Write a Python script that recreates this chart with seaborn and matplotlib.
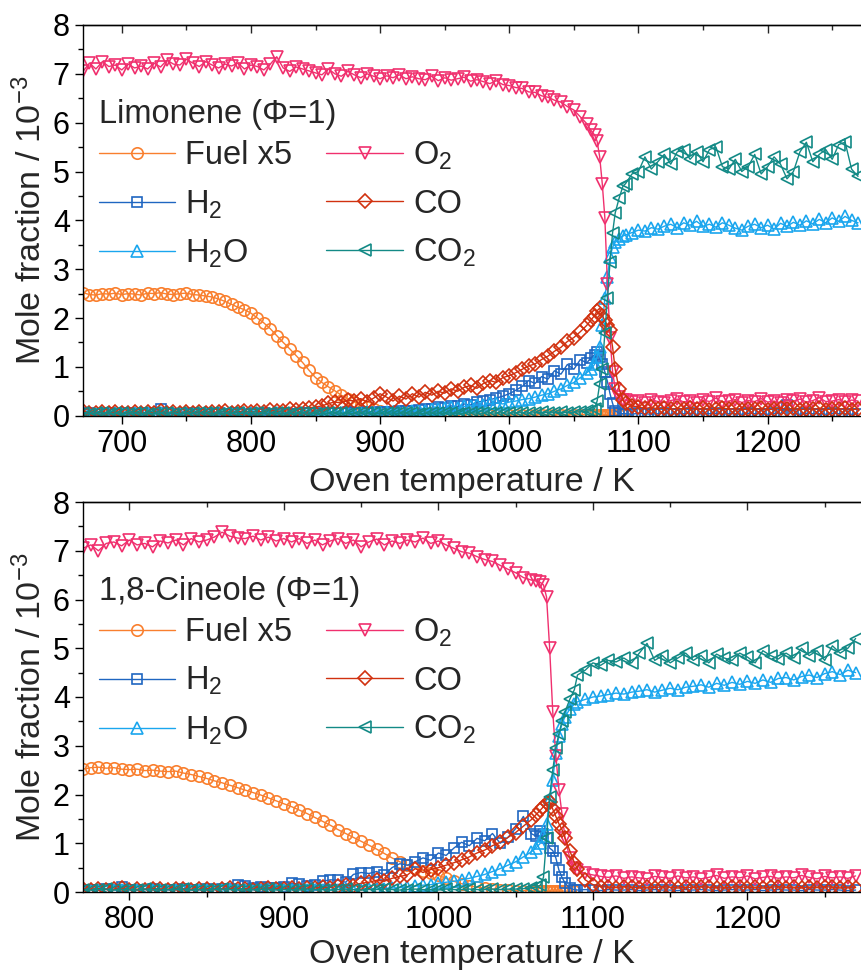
import matplotlib
matplotlib.use("Agg")
import matplotlib.pyplot as plt
import seaborn as sns
from matplotlib.ticker import MultipleLocator

sns.set_style("ticks")
plt.rcParams["font.family"] = ["Liberation Sans", "DejaVu Sans"]
plt.rcParams["mathtext.fontset"] = "custom"
plt.rcParams["mathtext.rm"] = "Liberation Sans"
plt.rcParams["mathtext.it"] = "Liberation Sans:italic"
plt.rcParams["mathtext.bf"] = "Liberation Sans:bold"

# ---------------- data: top panel (Limonene) ----------------
T_top = [670, 675, 680, 685, 690, 695, 700, 705, 710, 715, 720, 725, 730, 735, 740, 745, 750, 755, 760, 765,
         770, 775, 780, 785, 790, 795, 800, 805, 810, 815, 820, 825, 830, 835, 840, 845, 850, 855, 860, 865,
         870, 875, 880, 885, 890, 895, 900, 905, 910, 915, 920, 925, 930, 935, 940, 945, 950, 955, 960, 965,
         970, 975, 980, 985, 990, 995, 1000, 1005, 1010, 1015, 1020, 1025, 1030, 1035, 1040, 1045, 1050, 1055, 1060,
         1063, 1066, 1068, 1070, 1072, 1074, 1076, 1078, 1080, 1082, 1085, 1088,
         1090, 1095, 1100, 1105, 1110, 1115, 1120, 1125, 1130, 1135, 1140, 1145, 1150, 1155, 1160, 1165, 1170,
         1175, 1180, 1185, 1190, 1195, 1200, 1205, 1210, 1215, 1220, 1225, 1230, 1235, 1240, 1245, 1250, 1255,
         1260, 1265, 1270]

fuel_top = [2.52, 2.48, 2.47, 2.50, 2.49, 2.51, 2.48, 2.50, 2.49, 2.47, 2.51, 2.50, 2.52, 2.49, 2.48, 2.50, 2.51, 2.48, 2.47,
            2.45, 2.43, 2.39, 2.34, 2.28, 2.22, 2.17, 2.10, 2.00, 1.90, 1.78, 1.64, 1.50, 1.37, 1.23, 1.09, 0.93, 0.78, 0.68, 0.59,
            0.51, 0.42, 0.35, 0.28, 0.22, 0.17, 0.13, 0.10,
            0.08, 0.07, 0.06, 0.05, 0.05, 0.04, 0.04, 0.04, 0.03, 0.03, 0.03, 0.03, 0.03, 0.03, 0.02, 0.02, 0.02, 0.02, 0.02, 0.02,
            0.02, 0.02, 0.02, 0.02, 0.02, 0.02, 0.02, 0.02, 0.02, 0.02, 0.02, 0.02,
            0.02, 0.02, 0.02, 0.02, 0.02, 0.02, 0.02, 0.02, 0.02, 0.02, 0.02, 0.02]

o2_top = [7.05, 7.22, 7.10, 7.25, 7.15, 7.18, 7.08, 7.20, 7.12, 7.16, 7.10, 7.22, 7.14, 7.28, 7.20, 7.18, 7.30, 7.22, 7.15, 7.25,
          7.18, 7.12, 7.20, 7.16, 7.22, 7.10, 7.18,
          7.15, 7.08, 7.20, 7.35, 7.12, 7.05, 7.14, 7.10, 7.06, 7.02, 6.98, 7.10, 7.00, 6.95, 7.05, 6.98, 6.92, 7.00, 6.95, 6.90,
          6.96, 6.92, 6.98, 6.90, 6.94, 6.90, 6.88, 6.95, 6.86, 6.92, 6.87, 6.90, 6.93, 6.85, 6.88, 6.84, 6.80, 6.86, 6.78, 6.76,
          6.72, 6.70, 6.63, 6.62, 6.55, 6.52, 6.46, 6.42, 6.33, 6.26, 6.12, 5.98,
          5.85, 5.75, 5.62, 5.30, 4.75, 4.05, 2.70, 1.60, 0.90, 0.55, 0.38, 0.32,
          0.32, 0.28, 0.30, 0.26, 0.33, 0.29, 0.27, 0.31, 0.34, 0.28, 0.30, 0.25, 0.32, 0.29, 0.36, 0.28, 0.30, 0.33, 0.27, 0.31,
          0.29, 0.35, 0.28, 0.30, 0.26, 0.32, 0.30, 0.34, 0.28, 0.31, 0.37, 0.29, 0.30, 0.33, 0.28, 0.32, 0.30]

h2_top = [0.04, 0.05, 0.03, 0.04, 0.05, 0.04, 0.03, 0.05, 0.04, 0.04, 0.05, 0.04, 0.14, 0.05, 0.04, 0.03, 0.04, 0.05, 0.04, 0.04,
          0.03, 0.05, 0.04, 0.04, 0.05, 0.04, 0.03, 0.04, 0.05, 0.04, 0.04, 0.05, 0.04, 0.03, 0.05, 0.06, 0.05, 0.04, 0.06, 0.05,
          0.06, 0.07, 0.05, 0.06, 0.08, 0.06, 0.07,
          0.08, 0.07, 0.09, 0.10, 0.09, 0.12, 0.14, 0.13, 0.17, 0.16, 0.20, 0.19, 0.24, 0.22, 0.28, 0.30, 0.33, 0.36, 0.40, 0.45,
          0.52, 0.60, 0.72, 0.66, 0.80, 0.75, 0.92, 0.85, 1.05, 0.95, 1.15, 1.08,
          1.18, 1.25, 1.30, 1.20, 1.05, 0.90, 0.70, 0.45, 0.25, 0.10, 0.05, 0.04,
          0.04, 0.03, 0.05, 0.04, 0.03, 0.04, 0.05, 0.03, 0.04, 0.04, 0.05, 0.03, 0.04, 0.04, 0.05, 0.03, 0.04, 0.04, 0.03, 0.05,
          0.04, 0.04, 0.03, 0.05, 0.04, 0.22, 0.04, 0.03, 0.05, 0.04, 0.04, 0.03, 0.05, 0.04, 0.04, 0.03, 0.04]

co_top = [0.10, 0.06, 0.05, 0.08, 0.06, 0.07, 0.05, 0.06, 0.08, 0.05, 0.07, 0.06, 0.09, 0.05, 0.07, 0.06, 0.08, 0.05, 0.07, 0.06,
          0.08, 0.07, 0.09, 0.06, 0.08, 0.10, 0.07, 0.09, 0.08, 0.12, 0.09, 0.10, 0.13, 0.11, 0.14, 0.16, 0.18,
          0.20, 0.25, 0.28, 0.26, 0.32, 0.30, 0.35, 0.28, 0.36, 0.45, 0.38, 0.30, 0.40, 0.34, 0.45, 0.38, 0.48, 0.42, 0.50, 0.46,
          0.55, 0.50, 0.58, 0.62, 0.56, 0.66, 0.72, 0.68, 0.78, 0.82, 0.88, 0.95, 1.02, 1.06, 1.15, 1.22, 1.32, 1.40, 1.52, 1.60,
          1.72, 1.85,
          1.95, 2.05, 2.15, 2.20, 2.05, 1.95, 1.85, 1.75, 1.40, 0.95, 0.55, 0.32,
          0.25, 0.20, 0.18, 0.15, 0.17, 0.14, 0.16, 0.13, 0.15, 0.14, 0.16, 0.13, 0.15, 0.12, 0.14, 0.16, 0.13, 0.15, 0.12, 0.14,
          0.13, 0.15, 0.12, 0.14, 0.16, 0.13, 0.15, 0.12, 0.14, 0.13, 0.15, 0.12, 0.14, 0.13, 0.15, 0.12, 0.14]

h2o_top = [0.04, 0.05, 0.04, 0.05, 0.04, 0.05, 0.04, 0.04, 0.05, 0.04, 0.05, 0.04, 0.05, 0.04, 0.04, 0.05, 0.04, 0.05, 0.04, 0.05,
           0.04, 0.05, 0.04, 0.05, 0.04, 0.05, 0.05, 0.04, 0.05, 0.04, 0.05, 0.04, 0.05, 0.05, 0.04, 0.06, 0.05, 0.05, 0.06, 0.05,
           0.06, 0.05, 0.06, 0.06, 0.07, 0.06, 0.07,
           0.07, 0.08, 0.07, 0.09, 0.10, 0.11, 0.10, 0.13, 0.14, 0.15, 0.17, 0.16, 0.19, 0.20, 0.22, 0.21, 0.25, 0.26, 0.24, 0.28,
           0.30, 0.33, 0.35, 0.38, 0.42, 0.45, 0.50, 0.55, 0.62, 0.68, 0.78, 0.88,
           0.95, 1.05, 1.20, 1.40, 1.85, 2.40, 2.85, 3.25, 3.45, 3.55, 3.62, 3.68,
           3.70, 3.75, 3.80, 3.78, 3.85, 3.82, 3.88, 3.92, 3.85, 3.95, 3.90, 3.98, 3.88, 3.92, 3.86, 3.95, 3.90, 3.84, 3.80, 3.88,
           3.92, 3.85, 3.90, 3.82, 3.94, 3.88, 3.96, 3.90, 3.99, 3.93, 4.02, 3.95, 4.05, 3.98, 4.08, 4.00, 3.95]

co2_top = [0.05, 0.04, 0.05, 0.06, 0.04, 0.05, 0.05, 0.04, 0.06, 0.05, 0.04, 0.05, 0.05, 0.06, 0.04, 0.05, 0.04, 0.05, 0.06, 0.05,
           0.05, 0.04, 0.05, 0.05, 0.06, 0.04, 0.05, 0.05, 0.04, 0.06, 0.05, 0.05, 0.04, 0.05, 0.06, 0.05, 0.04, 0.05, 0.05, 0.06,
           0.05, 0.04, 0.05, 0.06, 0.05, 0.05, 0.04, 0.06, 0.05, 0.05, 0.06, 0.05, 0.04, 0.05, 0.06, 0.05, 0.05, 0.06, 0.04, 0.05,
           0.06, 0.05, 0.05, 0.06, 0.05, 0.06, 0.05, 0.06, 0.06, 0.05, 0.06, 0.07, 0.06, 0.06, 0.07, 0.06, 0.07, 0.08, 0.09,
           0.10, 0.14, 0.30, 0.65, 0.95, 1.70, 2.40, 3.15, 3.75, 4.15, 4.45, 4.70,
           4.75, 4.95, 5.00, 5.30, 5.05, 5.20, 5.35, 5.15, 5.40, 5.45, 5.25, 5.40, 5.20, 5.45, 5.50, 5.10, 5.05, 5.25, 5.00, 5.10,
           5.35, 4.95, 5.10, 5.30, 5.15, 4.85, 5.00, 5.40, 5.60, 5.20, 5.35, 5.45, 5.25, 5.55, 5.60, 5.05, 4.90]

# ---------------- data: bottom panel (1,8-Cineole) ----------------
T_bot = [770, 775, 780, 785, 790, 795, 800, 805, 810, 815, 820, 825, 830, 835, 840, 845, 850, 855, 860, 865,
         870, 875, 880, 885, 890, 895, 900, 905, 910, 915, 920, 925, 930, 935, 940, 945, 950, 955, 960, 965,
         970, 975, 980, 985, 990, 995, 1000, 1005, 1010, 1015, 1020, 1025, 1030, 1035, 1040, 1045, 1050, 1055, 1060,
         1063, 1066, 1068, 1070, 1072, 1074, 1076, 1078, 1080, 1082, 1085, 1088,
         1090, 1095, 1100, 1105, 1110, 1115, 1120, 1125, 1130, 1135, 1140, 1145, 1150, 1155, 1160, 1165, 1170,
         1175, 1180, 1185, 1190, 1195, 1200, 1205, 1210, 1215, 1220, 1225, 1230, 1235, 1240, 1245, 1250, 1255,
         1260, 1265, 1270]

fuel_bot = [2.52, 2.55, 2.56, 2.54, 2.55, 2.52, 2.51, 2.52, 2.49, 2.50, 2.48, 2.47, 2.48, 2.44, 2.41, 2.37, 2.33, 2.28, 2.24, 2.19,
            2.14, 2.09, 2.04, 1.99, 1.93, 1.87, 1.81, 1.75, 1.68, 1.61, 1.53, 1.45, 1.37, 1.28, 1.20, 1.12, 1.04, 0.96, 0.88, 0.79,
            0.70, 0.62, 0.55, 0.49, 0.44, 0.40,
            0.34, 0.28, 0.22, 0.17, 0.13, 0.10, 0.08, 0.06, 0.05, 0.04, 0.03, 0.03, 0.03,
            0.02, 0.02, 0.02, 0.02, 0.02, 0.02, 0.02, 0.02, 0.02, 0.02, 0.02, 0.02]

o2_bot = [7.05, 7.12, 7.00, 7.15, 7.18, 7.10, 7.22, 7.12, 7.15, 7.08, 7.20, 7.16, 7.22, 7.12, 7.25, 7.18, 7.22, 7.28, 7.38, 7.30,
          7.26, 7.25, 7.30, 7.22, 7.28, 7.20, 7.25,
          7.18, 7.25, 7.15, 7.22, 7.12, 7.20, 7.25, 7.15, 7.22, 7.08, 7.18, 7.24, 7.12, 7.20, 7.15, 7.22, 7.18, 7.26, 7.15, 7.20,
          7.12, 7.05, 6.98, 6.95, 6.88, 6.82, 6.78, 6.70, 6.62, 6.55, 6.45, 6.40,
          6.38, 6.35, 6.30, 6.05, 5.00, 3.70, 2.80, 2.10, 1.60, 1.10, 0.70, 0.50,
          0.45, 0.38, 0.35, 0.32, 0.30, 0.33, 0.28, 0.31, 0.29, 0.27, 0.32, 0.30, 0.28, 0.33, 0.29, 0.31, 0.27, 0.30, 0.34, 0.28,
          0.31, 0.29, 0.33, 0.27, 0.30, 0.32, 0.28, 0.31, 0.29, 0.34, 0.30, 0.27, 0.32, 0.29, 0.31, 0.28, 0.33]

h2_bot = [0.04, 0.05, 0.04, 0.06, 0.05, 0.10, 0.05, 0.04, 0.05, 0.06, 0.04, 0.05, 0.05, 0.06, 0.05, 0.04, 0.06, 0.05, 0.07, 0.06,
          0.14, 0.12, 0.08, 0.10, 0.09, 0.08, 0.10,
          0.18, 0.16, 0.12, 0.15, 0.22, 0.25, 0.24, 0.20, 0.36, 0.40, 0.38, 0.42, 0.35, 0.50, 0.58, 0.55, 0.62, 0.70, 0.65, 0.80,
          0.75, 0.90, 1.02, 0.95, 1.10, 1.05, 1.20, 1.00, 1.12, 1.30, 1.55, 1.20,
          1.15, 1.25, 1.20, 1.10, 0.90, 0.85, 0.70, 0.45, 0.30, 0.18, 0.08, 0.05,
          0.04, 0.05, 0.04, 0.03, 0.05, 0.04, 0.04, 0.05, 0.03, 0.04, 0.05, 0.04, 0.04, 0.03, 0.05, 0.04, 0.05, 0.04, 0.03, 0.04,
          0.05, 0.04, 0.04, 0.05, 0.03, 0.04, 0.05, 0.04, 0.04, 0.03, 0.05, 0.04, 0.04, 0.05, 0.04, 0.03, 0.04]

co_bot = [0.06, 0.05, 0.07, 0.05, 0.06, 0.08, 0.05, 0.06, 0.05, 0.07, 0.06, 0.05, 0.07, 0.06, 0.05, 0.06, 0.07, 0.05, 0.06, 0.08,
          0.06, 0.07, 0.05, 0.06, 0.08, 0.07, 0.06, 0.08, 0.07, 0.08,
          0.08, 0.10, 0.09, 0.12, 0.14, 0.13, 0.18, 0.20, 0.24, 0.22, 0.28, 0.32, 0.35, 0.48, 0.40, 0.46, 0.50, 0.55, 0.60, 0.66,
          0.72, 0.80, 0.86, 0.95, 1.02, 1.12, 1.22, 1.35, 1.48,
          1.58, 1.68, 1.75, 1.82, 1.85, 1.70, 1.55, 1.40, 1.28, 1.10, 0.85, 0.60,
          0.48, 0.25, 0.15, 0.11, 0.10, 0.09, 0.11, 0.10, 0.08, 0.10, 0.09, 0.11, 0.10, 0.08, 0.10, 0.09, 0.11, 0.10, 0.09, 0.08,
          0.10, 0.11, 0.09, 0.10, 0.08, 0.10, 0.11, 0.09, 0.10, 0.08, 0.10, 0.09, 0.11, 0.10, 0.08, 0.10, 0.09]

h2o_bot = [0.04, 0.05, 0.04, 0.05, 0.04, 0.05, 0.04, 0.04, 0.05, 0.04, 0.05, 0.04, 0.05, 0.04, 0.04, 0.05, 0.04, 0.05, 0.04, 0.05,
           0.04, 0.05, 0.04, 0.05, 0.04, 0.05, 0.05, 0.04, 0.05, 0.04, 0.05, 0.05, 0.04, 0.05, 0.06, 0.05, 0.05, 0.06, 0.06,
           0.07, 0.08, 0.09, 0.10, 0.12, 0.14, 0.15, 0.18, 0.20, 0.22, 0.25, 0.28, 0.32, 0.36, 0.42, 0.48, 0.55, 0.62, 0.72, 0.82,
           0.90, 1.00, 1.15, 1.40, 1.90, 2.30, 2.85, 3.20, 3.45, 3.60, 3.75, 3.85,
           3.90, 3.95, 4.00, 4.02, 4.05, 4.08, 4.06, 4.10, 4.12, 4.15, 4.10, 4.14, 4.18, 4.15, 4.20, 4.22, 4.25, 4.20, 4.28, 4.24,
           4.30, 4.26, 4.32, 4.28, 4.35, 4.30, 4.38, 4.40, 4.35, 4.42, 4.45, 4.40, 4.48, 4.52, 4.46, 4.55, 4.50]

co2_bot = [0.05, 0.04, 0.05, 0.06, 0.04, 0.05, 0.05, 0.04, 0.06, 0.05, 0.04, 0.05, 0.05, 0.06, 0.04, 0.05, 0.04, 0.05, 0.06, 0.05,
           0.05, 0.04, 0.05, 0.05, 0.06, 0.04, 0.05, 0.05, 0.04, 0.06, 0.05, 0.05, 0.04, 0.05, 0.06, 0.05, 0.04, 0.05, 0.05, 0.06,
           0.05, 0.04, 0.05, 0.06, 0.05, 0.05, 0.04, 0.06, 0.05, 0.05, 0.06, 0.05, 0.05, 0.06, 0.05, 0.06, 0.06, 0.07, 0.08,
           0.10, 0.14, 0.30, 1.10, 1.95, 2.50, 2.95, 3.25, 3.50, 3.70, 3.95, 4.15,
           4.45, 4.55, 4.70, 4.65, 4.75, 4.72, 4.80, 4.70, 4.90, 5.10, 4.75, 4.85, 4.70, 4.80, 4.90, 4.75, 4.85, 4.70, 4.88, 4.80,
           4.75, 4.90, 4.82, 4.70, 4.95, 4.85, 4.78, 4.90, 4.80, 5.00, 4.85, 4.95, 4.75, 5.05, 4.90, 5.00, 5.20]

# ---------------- series styling ----------------
labels = ["Fuel x5", "H$_2$", "H$_2$O", "O$_2$", "CO", "CO$_2$"]
colors = ["#F97F2E", "#1F66C1", "#1AA6EE", "#F0306E", "#D1310F", "#138A86"]
markers = ["o", "s", "^", "v", "D", "<"]
msizes = [8.2, 7.2, 9.2, 9.2, 6.8, 9.2]

panels = [
    (T_top, [fuel_top, h2_top, h2o_top, o2_top, co_top, co2_top], (670, 1272.3), [700, 800, 900, 1000, 1100, 1200],
     "Limonene (\u03a6=1)"),
    (T_bot, [fuel_bot, h2_bot, h2o_bot, o2_bot, co_bot, co2_bot], (770, 1273.5), [800, 900, 1000, 1100, 1200],
     "1,8-Cineole (\u03a6=1)"),
]

fig = plt.figure(figsize=(8.61, 9.77), dpi=100)
rects = [[83 / 861, 1 - 415.7 / 977, 778 / 861, 390.7 / 977],
         [83 / 861, 1 - 892 / 977, 778 / 861, 390 / 977]]
xlabelpads = [6, 3]

for rect, (T, series, xlim, xt, title), lpad in zip(rects, panels, xlabelpads):
    ax = fig.add_axes(rect)
    for vals, lab, c, m, ms in zip(series, labels, colors, markers, msizes):
        sns.lineplot(x=T[:len(vals)], y=vals, ax=ax, color=c, marker=m, markersize=ms,
                     markerfacecolor="none", markeredgecolor=c, markeredgewidth=1.2,
                     linewidth=1.0, label=lab, estimator=None, sort=False)
    ax.set_xlim(*xlim)
    ax.set_ylim(0, 8)
    ax.set_xticks(xt)
    ax.xaxis.set_minor_locator(MultipleLocator(50))
    ax.set_yticks(range(0, 9))
    ax.yaxis.set_minor_locator(MultipleLocator(0.5))
    for s in ["left", "bottom", "top"]:
        ax.spines[s].set_color("black")
        ax.spines[s].set_linewidth(1.0)
    ax.spines["right"].set_visible(False)
    ax.tick_params(axis="both", which="major", direction="out", length=6, width=1.0,
                   labelsize=22, colors="black", pad=3.5)
    ax.tick_params(axis="both", which="minor", direction="out", length=3.5, width=1.0, colors="black")
    ax.tick_params(axis="x", top=False, right=False)
    sec = ax.secondary_xaxis("top")
    sec.set_xticks(xt)
    sec.xaxis.set_minor_locator(MultipleLocator(50))
    sec.tick_params(axis="x", which="major", direction="in", length=6, width=1.0, labeltop=False)
    sec.tick_params(axis="x", which="minor", direction="in", length=3.5, width=1.0)
    sec.spines["top"].set_linewidth(1.0)
    ax.set_xlabel("Oven temperature / K", fontsize=24.5, labelpad=lpad)
    ax.set_ylabel("Mole fraction / 10$^{-3}$", fontsize=24.5, labelpad=3)
    leg = ax.legend(ncol=2, title=title, frameon=False, loc="upper left",
                    bbox_to_anchor=(0.02, 0.81), fontsize=23.5, title_fontsize=23.5,
                    handlelength=2.35, handletextpad=0.3, columnspacing=1.05,
                    labelspacing=0.52, borderpad=0, borderaxespad=0, alignment="left")
    leg._legend_box.sep = 6.5

fig.savefig("out.png", dpi=100)
